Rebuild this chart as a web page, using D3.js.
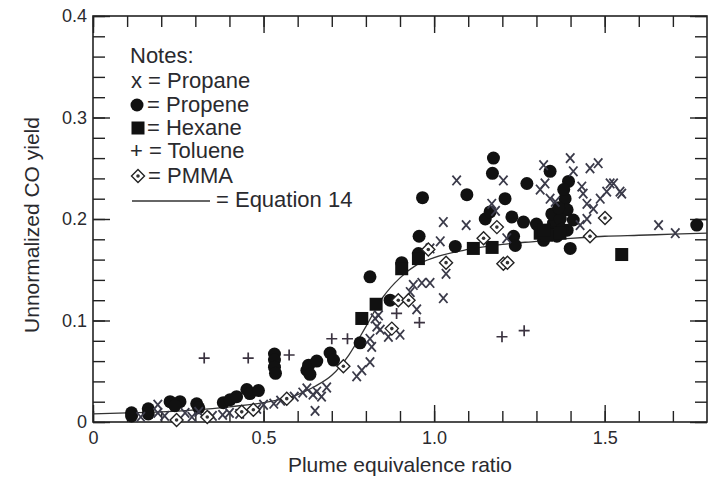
<!DOCTYPE html>
<html>
<head>
<meta charset="utf-8">
<script src="https://cdn.jsdelivr.net/npm/d3@7"></script>
<style>
  html, body { margin: 0; padding: 0; background: #fff; }
  svg { display: block; font-family: "Liberation Sans", Arial, Helvetica, sans-serif; }
</style>
</head>
<body>
<svg id="chart" width="708" height="483"></svg>
<script>
// CO yield measurements, [equivalence ratio, yield]
const propane = [
  [0.14,0.005],[0.19,0.017],[0.19,0.009],[0.21,0.006],[0.27,0.009],[0.29,0.005],[0.31,0.010],
  [0.35,0.006],[0.38,0.007],[0.40,0.009],[0.43,0.008],[0.48,0.013],[0.50,0.017],[0.53,0.018],
  [0.55,0.021],[0.59,0.025],[0.615,0.029],[0.627,0.033],[0.645,0.027],[0.656,0.030],[0.685,0.034],
  [0.67,0.025],[0.651,0.011],[0.773,0.045],[0.788,0.051],[0.812,0.059],[0.817,0.074],[0.812,0.082],
  [0.842,0.091],[0.827,0.102],[0.837,0.105],[0.832,0.094],[0.866,0.084],[0.90,0.086],[0.949,0.111],
  [0.93,0.128],[0.939,0.135],[0.964,0.137],[0.988,0.137],[1.027,0.122],[1.035,0.146],[1.018,0.178],
  [0.988,0.171],[1.027,0.197],[1.094,0.194],[1.066,0.238],[1.203,0.238],[1.169,0.215],[1.18,0.208],
  [1.213,0.181],[1.321,0.253],[1.325,0.235],[1.311,0.229],[1.340,0.220],[1.355,0.217],[1.399,0.260],
  [1.408,0.247],[1.457,0.250],[1.481,0.255],[1.433,0.232],[1.437,0.225],[1.516,0.235],[1.545,0.227],
  [1.506,0.227],[1.487,0.220],[1.448,0.215],[1.467,0.210],[1.448,0.200],[1.428,0.194],[1.526,0.235],
  [1.55,0.225],[1.658,0.194],[1.707,0.186]
];
const propene = [
  [0.113,0.009],[0.113,0.006],[0.162,0.013],[0.162,0.008],[0.226,0.020],[0.255,0.020],[0.24,0.016],
  [0.304,0.018],[0.31,0.014],[0.382,0.019],[0.402,0.022],[0.421,0.025],[0.451,0.032],[0.46,0.028],
  [0.485,0.031],[0.532,0.067],[0.532,0.061],[0.532,0.054],[0.535,0.048],[0.627,0.051],[0.632,0.056],
  [0.636,0.047],[0.656,0.060],[0.695,0.068],[0.705,0.061],[0.783,0.078],[0.812,0.143],[0.871,0.120],
  [0.905,0.157],[0.954,0.166],[0.956,0.183],[0.966,0.221],[1.062,0.173],[1.096,0.224],[1.174,0.260],
  [1.171,0.245],[1.15,0.200],[1.164,0.207],[1.208,0.220],[1.228,0.202],[1.262,0.197],[1.233,0.183],
  [1.238,0.174],[1.272,0.235],[1.340,0.247],[1.394,0.237],[1.384,0.220],[1.39,0.209],[1.408,0.199],
  [1.39,0.189],[1.35,0.196],[1.33,0.189],[1.321,0.179],[1.36,0.183],[1.399,0.171],[1.30,0.195],
  [1.345,0.205],[1.37,0.200],[1.375,0.190],[1.34,0.185],[1.365,0.211],[1.38,0.229],[1.77,0.194]
];
const hexane = [
  [0.788,0.102],[0.830,0.116],[0.905,0.151],[0.954,0.161],[1.115,0.171],[1.17,0.172],
  [1.311,0.186],[1.33,0.184],[1.369,0.186],[1.321,0.189],[1.55,0.165]
];
const toluene = [
  [0.326,0.063],[0.455,0.063],[0.575,0.066],[0.70,0.082],[0.746,0.082],[0.89,0.107],
  [0.957,0.098],[1.199,0.084],[1.264,0.090]
];
const pmma = [
  [0.245,0.002],[0.335,0.005],[0.436,0.010],[0.47,0.012],[0.568,0.023],[0.734,0.055],
  [0.876,0.092],[0.895,0.120],[0.925,0.120],[0.983,0.170],[1.035,0.157],[1.145,0.181],
  [1.184,0.192],[1.203,0.156],[1.215,0.157],[1.457,0.183],[1.501,0.201]
];
// Equation 14 correlation curve
const equation14 = [
  [0,0.008],[0.1,0.009],[0.2,0.010],[0.3,0.012],[0.4,0.015],[0.5,0.019],[0.6,0.027],
  [0.65,0.035],[0.7,0.046],[0.75,0.066],[0.8,0.094],[0.85,0.123],[0.9,0.142],[0.95,0.155],
  [1.0,0.162],[1.1,0.170],[1.2,0.175],[1.3,0.178],[1.4,0.181],[1.5,0.183],[1.6,0.184],
  [1.7,0.185],[1.8,0.186]
];

const xLabelTicks = [0, 0.5, 1.0, 1.5];
const xLabelText = ["0", "0.5", "1.0", "1.5"];
const yLabelTicks = [0, 0.1, 0.2, 0.3, 0.4];
const yLabelText = ["0", "0.1", "0.2", "0.3", "0.4"];
const xTitle = "Plume equivalence ratio";
const yTitle = "Unnormalized CO yield";

const svg = d3.select("#chart");
const ink = "#222";
const textInk = "#2a2a2e";
const frame = { left: 93, right: 707, top: 16, bottom: 422 };

const x = d3.scaleLinear().domain([0, 1.8]).range([frame.left, frame.right]);
const y = d3.scaleLinear().domain([0, 0.4]).range([frame.bottom, frame.top]);

const xMinor = d3.range(0, 18).map(i => i / 10);
const yMinor = d3.range(0, 21).map(i => i / 50);

function styleAxis(g) {
  g.select(".domain").remove();
  g.selectAll("line").attr("stroke", ink).attr("stroke-width", 1.4);
  g.selectAll("text").attr("fill", textInk).style("font-size", "18px")
    .style("font-family", "'Liberation Sans', Arial, sans-serif");
}

// bottom axis
svg.append("g").attr("transform", `translate(0,${frame.bottom})`)
  .call(d3.axisBottom(x).tickValues(xMinor).tickSize(-11).tickFormat(""))
  .call(styleAxis);
svg.append("g").attr("transform", `translate(0,${frame.bottom})`)
  .call(d3.axisBottom(x).tickValues(xLabelTicks).tickSize(-17).tickPadding(9)
    .tickFormat((d, i) => xLabelText[i]))
  .call(styleAxis);
// top axis
svg.append("g").attr("transform", `translate(0,${frame.top})`)
  .call(d3.axisTop(x).tickValues(xMinor).tickSize(-11).tickFormat(""))
  .call(styleAxis);
svg.append("g").attr("transform", `translate(0,${frame.top})`)
  .call(d3.axisTop(x).tickValues(xLabelTicks).tickSize(-17).tickFormat(""))
  .call(styleAxis);
// left axis
svg.append("g").attr("transform", `translate(${frame.left},0)`)
  .call(d3.axisLeft(y).tickValues(yMinor).tickSize(-12).tickFormat(""))
  .call(styleAxis);
svg.append("g").attr("transform", `translate(${frame.left},0)`)
  .call(d3.axisLeft(y).tickValues(yLabelTicks).tickSize(-17).tickPadding(6)
    .tickFormat((d, i) => yLabelText[i]))
  .call(styleAxis);
// right axis
svg.append("g").attr("transform", `translate(${frame.right},0)`)
  .call(d3.axisRight(y).tickValues(yMinor).tickSize(-12).tickFormat(""))
  .call(styleAxis);
svg.append("g").attr("transform", `translate(${frame.right},0)`)
  .call(d3.axisRight(y).tickValues(yLabelTicks).tickSize(-17).tickFormat(""))
  .call(styleAxis);

// frame
svg.append("rect")
  .attr("x", frame.left).attr("y", frame.top)
  .attr("width", frame.right - frame.left).attr("height", frame.bottom - frame.top)
  .attr("fill", "none").attr("stroke", ink).attr("stroke-width", 1.6);

// axis titles
svg.append("text")
  .attr("x", (frame.left + frame.right) / 2).attr("y", 472)
  .attr("text-anchor", "middle").attr("fill", textInk)
  .style("font-size", "21px").text(xTitle);
svg.append("text")
  .attr("transform", `translate(39,${(frame.top + frame.bottom) / 2 + 6}) rotate(-90)`)
  .attr("text-anchor", "middle").attr("fill", textInk)
  .style("font-size", "21px").text(yTitle);

const plot = svg.append("g");

// correlation curve
plot.append("path")
  .datum(equation14)
  .attr("fill", "none").attr("stroke", "#333").attr("stroke-width", 1.3)
  .attr("d", d3.line().x(d => x(d[0])).y(d => y(d[1])).curve(d3.curveMonotoneX));

// marker drawers
const drawCircle = (g, cx, cy) => g.append("circle").attr("cx", cx).attr("cy", cy).attr("r", 6.5).attr("fill", "#111");
const drawSquare = (g, cx, cy) => g.append("rect").attr("x", cx - 6.5).attr("y", cy - 6.5)
  .attr("width", 13).attr("height", 13).attr("fill", "#111");
const drawCross = (g, cx, cy) => g.append("path")
  .attr("d", `M${cx - 4.2},${cy - 4.8}L${cx + 4.2},${cy + 4.8}M${cx + 4.2},${cy - 4.8}L${cx - 4.2},${cy + 4.8}`)
  .attr("stroke", "#3b3b4a").attr("stroke-width", 1.8).attr("fill", "none");
const drawPlus = (g, cx, cy) => g.append("path")
  .attr("d", `M${cx - 5.5},${cy}L${cx + 5.5},${cy}M${cx},${cy - 5.5}L${cx},${cy + 5.5}`)
  .attr("stroke", "#3b3340").attr("stroke-width", 1.7).attr("fill", "none");
const drawDiamond = (g, cx, cy) => {
  g.append("path")
    .attr("d", `M${cx},${cy - 6.5}L${cx + 6.5},${cy}L${cx},${cy + 6.5}L${cx - 6.5},${cy}Z`)
    .attr("fill", "#fff").attr("stroke", "#222").attr("stroke-width", 1.4);
  g.append("circle").attr("cx", cx).attr("cy", cy).attr("r", 1.8).attr("fill", "#333");
};

propene.forEach(d => drawCircle(plot, x(d[0]), y(d[1])));
hexane.forEach(d => drawSquare(plot, x(d[0]), y(d[1])));
propane.forEach(d => drawCross(plot, x(d[0]), y(d[1])));
toluene.forEach(d => drawPlus(plot, x(d[0]), y(d[1])));
pmma.forEach(d => drawDiamond(plot, x(d[0]), y(d[1])));

// notes / legend
const lg = svg.append("g").style("font-size", "22px").attr("fill", textInk);
lg.append("text").attr("x", 130).attr("y", 63).text("Notes:");
lg.append("text").attr("x", 131).attr("y", 88).text("x = Propane");
drawCircle(lg, 137, 105);
lg.append("text").attr("x", 147).attr("y", 112).text("= Propene");
drawSquare(lg, 138, 128);
lg.append("text").attr("x", 147).attr("y", 135).text("= Hexane");
lg.append("text").attr("x", 130).attr("y", 158).text("+ = Toluene");
drawDiamond(lg, 138, 176);
lg.append("text").attr("x", 148).attr("y", 183).text("= PMMA");
lg.append("line").attr("x1", 132).attr("x2", 210).attr("y1", 201).attr("y2", 201)
  .attr("stroke", "#333").attr("stroke-width", 1.4);
lg.append("text").attr("x", 216).attr("y", 207).text("= Equation 14");
</script>
</body>
</html>
